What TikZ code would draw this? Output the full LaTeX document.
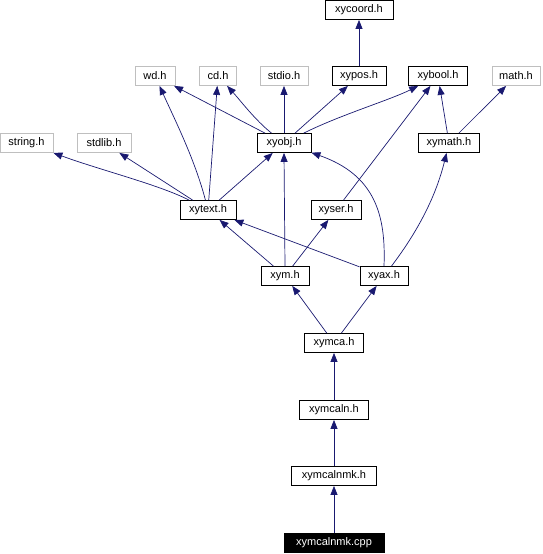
\documentclass[tikz,border=0pt]{standalone}
\usepackage{fontspec}
\setmainfont{Liberation Sans}
\usetikzlibrary{arrows.meta}
\definecolor{edgeblue}{RGB}{25,25,112}
\definecolor{sysgray}{RGB}{191,191,191}
\begin{document}
\begin{tikzpicture}[x=1pt, y=-1pt,
  file/.style={draw, rectangle, minimum height=19pt, inner sep=0pt, line width=0.8pt, font=\fontsize{11}{13}\selectfont},
  sysfile/.style={file, draw=sysgray},
  mainfile/.style={file, fill=black, text=white},
  dep/.style={edgeblue, line width=0.7pt, -{Triangle[length=9pt, width=7pt]}}]
\useasboundingbox (0,0) rectangle (542,554);
\node[file, minimum width=68pt] (xycoord) at (359, 10) {xycoord.h};
\node[sysfile, minimum width=40pt] (wd) at (155, 76) {wd.h};
\node[sysfile, minimum width=37pt] (cd) at (218, 76) {cd.h};
\node[sysfile, minimum width=48pt] (stdio) at (284, 76) {stdio.h};
\node[file, minimum width=54pt] (xypos) at (359, 76) {xypos.h};
\node[file, minimum width=59pt] (xybool) at (438, 76) {xybool.h};
\node[sysfile, minimum width=48pt] (math) at (516, 76) {math.h};
\node[sysfile, minimum width=53pt] (string) at (26.5, 143) {string.h};
\node[sysfile, minimum width=54pt] (stdlib) at (104, 143) {stdlib.h};
\node[file, minimum width=54pt] (xyobj) at (284, 143) {xyobj.h};
\node[file, minimum width=61pt] (xymath) at (449, 143) {xymath.h};
\node[file, minimum width=56pt] (xytext) at (208, 210) {xytext.h};
\node[file, minimum width=50pt] (xyser) at (336, 210) {xyser.h};
\node[file, minimum width=48pt] (xym) at (285, 276) {xym.h};
\node[file, minimum width=48pt] (xyax) at (384, 276) {xyax.h};
\node[file, minimum width=59pt] (xymca) at (334, 343) {xymca.h};
\node[file, minimum width=69pt] (xymcaln) at (334, 410) {xymcaln.h};
\node[file, minimum width=85pt] (xymcalnmk) at (334, 476) {xymcalnmk.h};
\node[mainfile, minimum width=100pt] (cpp) at (334, 543) {xymcalnmk.cpp};
% includes
\draw[dep] (xypos) -- (xycoord);
\draw[dep] (xyobj) -- (wd);
\draw[dep] (xyobj) .. controls (255,120) and (240,100) .. (cd);
\draw[dep] (xyobj) -- (stdio);
\draw[dep] (xyobj) -- (xypos);
\draw[dep] (xyobj) .. controls (340,115) and (390,100) .. (xybool);
\draw[dep] (xymath) -- (xybool);
\draw[dep] (xymath) -- (math);
\draw[dep] (xytext) .. controls (160,185) and (100,170) .. (string);
\draw[dep] (xytext) -- (stdlib);
\draw[dep] (xytext) .. controls (195,160) and (175,120) .. (wd);
\draw[dep] (xytext) -- (cd);
\draw[dep] (xytext) -- (xyobj);
\draw[dep] (xyser) -- (xybool);
\draw[dep] (xym) -- (xytext);
\draw[dep] (xym.north) -- (xyobj.south);
\draw[dep] (xym) -- (xyser);
\draw[dep] (xyax) -- (xytext);
\draw[dep] (xyax.north) .. controls (386,215) and (375,175) .. (xyobj);
\draw[dep] (xyax) .. controls (415,235) and (435,200) .. (xymath);
\draw[dep] (xymca) -- (xym);
\draw[dep] (xymca) -- (xyax);
\draw[dep] (xymcaln) -- (xymca);
\draw[dep] (xymcalnmk) -- (xymcaln);
\draw[dep] (cpp) -- (xymcalnmk);
\end{tikzpicture}
\end{document}
